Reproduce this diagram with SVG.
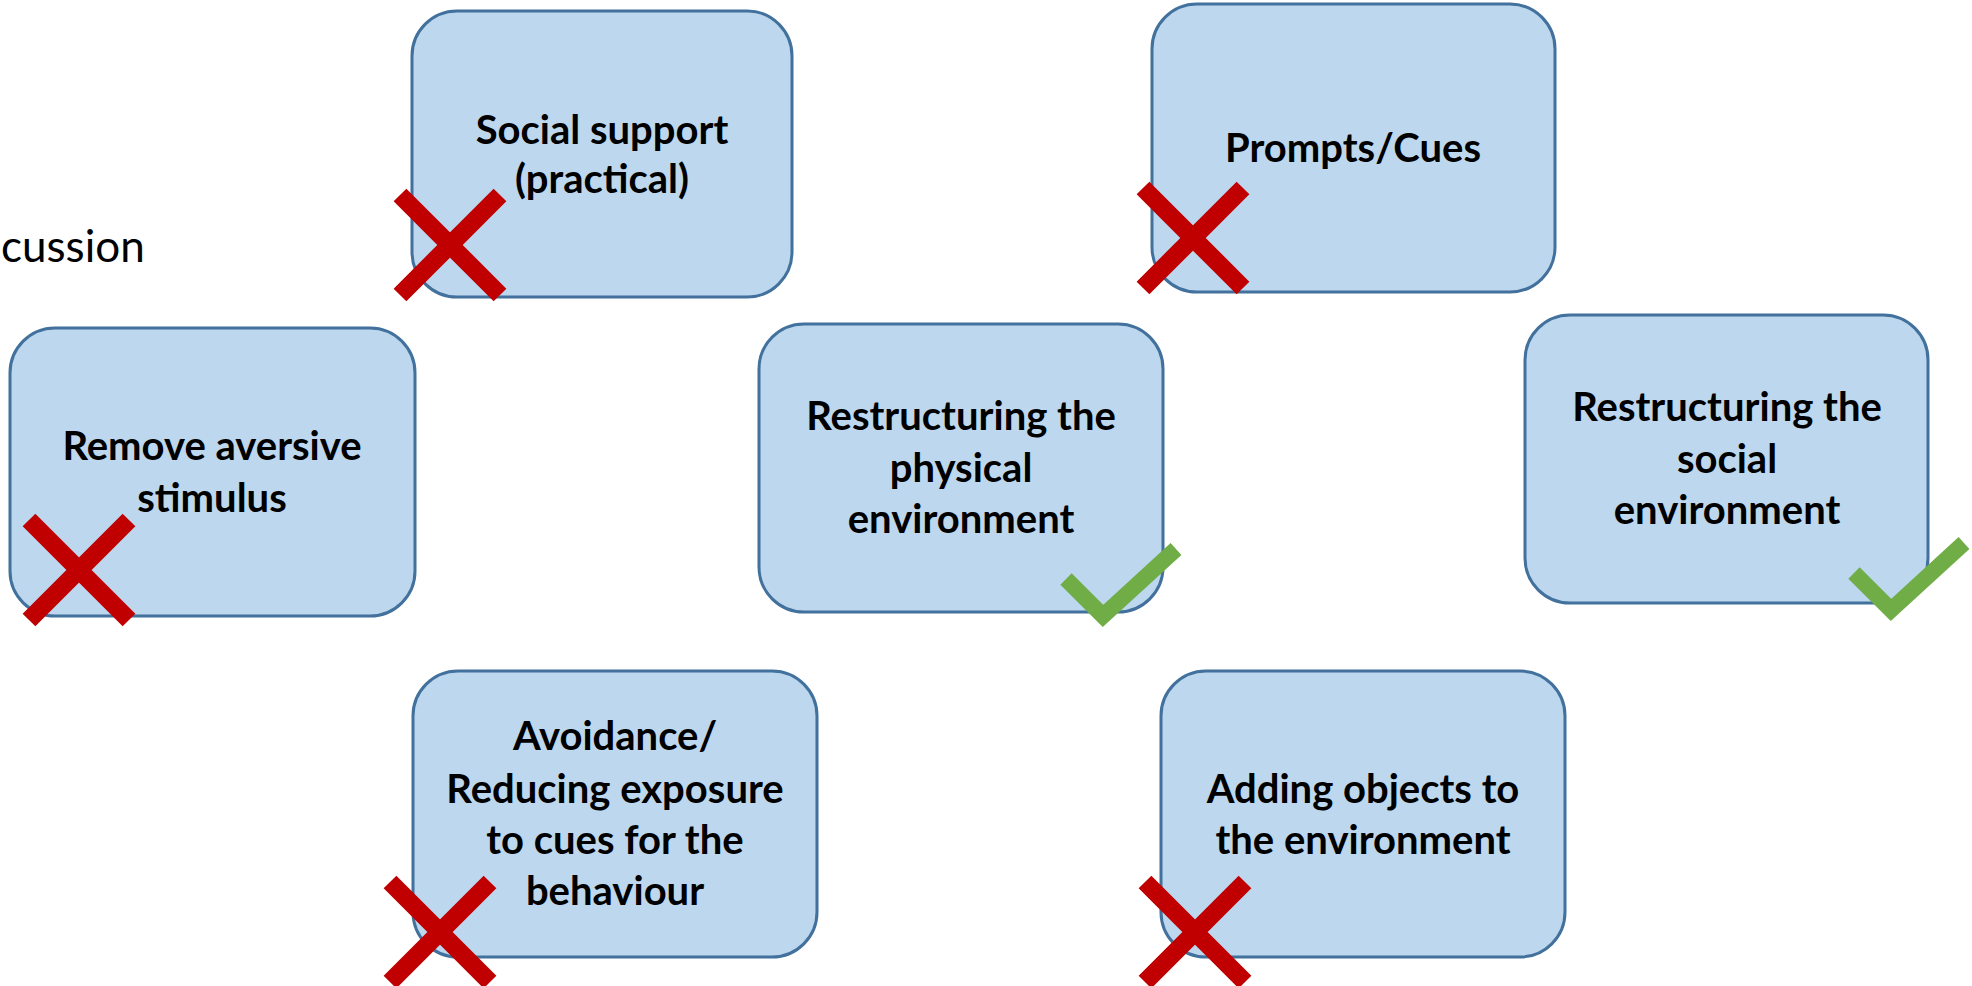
<svg xmlns="http://www.w3.org/2000/svg" width="1972" height="986" viewBox="0 0 1972 986">
  <style>
    .box { fill: #BDD7EE; stroke: #41719C; stroke-width: 3; }
    .label { font-family: Lato, "Open Sans", "Liberation Sans", sans-serif; font-weight: bold; font-size: 40px; fill: #000; text-anchor: middle; }
    .plain { font-family: Lato, "Open Sans", "Liberation Sans", sans-serif; font-size: 44px; fill: #000; }
    .cross { fill: none; stroke: #C00000; stroke-width: 18; stroke-linecap: butt; }
    .tick { fill: none; stroke: #70AD47; stroke-width: 16; stroke-linecap: butt; stroke-linejoin: miter; }
  </style>
  <defs>
    <!-- red "not used" cross, centred on the origin -->
    <path id="x-mark" class="cross" d="M-50,-50 L50,50 M50,-50 L-50,50"/>
    <!-- green "used" check, vertex at the origin -->
    <path id="check-mark" class="tick" d="M-37,-37 L0,0 L73,-67"/>
  </defs>

  <rect width="1972" height="986" fill="#FFFFFF"/>

  <!-- heading fragment at the left edge -->
  <text class="plain" x="1" y="262">cussion</text>

  <g id="social-support">
    <rect class="box" x="412" y="11" width="380" height="286" rx="45"/>
    <text class="label" x="602"><tspan x="602" y="144">Social support</tspan><tspan x="602" y="193">(practical)</tspan></text>
    <use href="#x-mark" x="450" y="245"/>
  </g>

  <g id="prompts-cues">
    <rect class="box" x="1152" y="4" width="403" height="288" rx="45"/>
    <text class="label" x="1353" y="162">Prompts/Cues</text>
    <use href="#x-mark" x="1193" y="238"/>
  </g>

  <g id="remove-aversive">
    <rect class="box" x="10" y="328" width="405" height="288" rx="45"/>
    <text class="label"><tspan x="212" y="460">Remove aversive</tspan><tspan x="212" y="512">stimulus</tspan></text>
    <use href="#x-mark" x="79" y="570"/>
  </g>

  <g id="restructure-physical">
    <rect class="box" x="759" y="324" width="404" height="288" rx="45"/>
    <text class="label"><tspan x="961" y="430">Restructuring the</tspan><tspan x="961" y="482">physical</tspan><tspan x="961" y="533">environment</tspan></text>
    <use href="#check-mark" x="1103" y="616"/>
  </g>

  <g id="restructure-social">
    <rect class="box" x="1525" y="315" width="403" height="288" rx="45"/>
    <text class="label"><tspan x="1727" y="421">Restructuring the</tspan><tspan x="1727" y="473">social</tspan><tspan x="1727" y="524">environment</tspan></text>
    <use href="#check-mark" x="1891" y="610"/>
  </g>

  <g id="avoidance">
    <rect class="box" x="413" y="671" width="404" height="286" rx="45"/>
    <text class="label"><tspan x="615" y="750">Avoidance/</tspan><tspan x="615" y="803">Reducing exposure</tspan><tspan x="615" y="854">to cues for the</tspan><tspan x="615" y="905">behaviour</tspan></text>
    <use href="#x-mark" x="440" y="932"/>
  </g>

  <g id="adding-objects">
    <rect class="box" x="1161" y="671" width="404" height="286" rx="45"/>
    <text class="label"><tspan x="1363" y="803">Adding objects to</tspan><tspan x="1363" y="854">the environment</tspan></text>
    <use href="#x-mark" x="1195" y="932"/>
  </g>

  <!-- no connectors are drawn between the boxes -->
  <g id="connectors"/>
</svg>
